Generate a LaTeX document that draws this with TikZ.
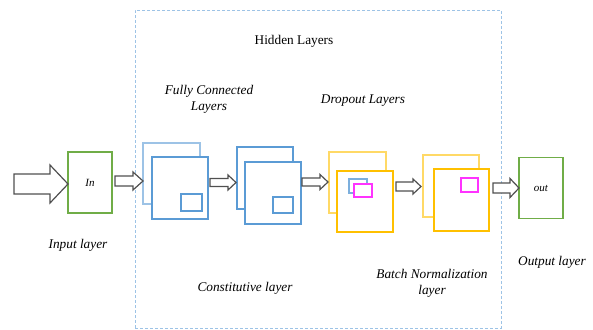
\documentclass[tikz,border=0pt]{standalone}
\usepackage{fontspec}
\setmainfont{Liberation Serif}
\usepackage{xcolor}
\definecolor{boxblue}{RGB}{91,155,213}
\definecolor{lightblue}{RGB}{157,195,230}
\definecolor{boxgold}{RGB}{255,192,0}
\definecolor{lightgold}{RGB}{255,217,102}
\definecolor{boxpink}{RGB}{255,51,255}
\definecolor{boxgreen}{RGB}{112,173,71}
\definecolor{arrowgray}{RGB}{80,80,80}
\usetikzlibrary{positioning}

\begin{document}
\begin{tikzpicture}[x=1pt,y=-1pt,
  every node/.style={font=\fontsize{13.3}{14.5}\selectfont},
  layer/.style={draw=boxgreen,line width=1.2pt,minimum width=44pt,minimum height=61pt,inner sep=0pt},
  sheet/.style={draw,line width=1.2pt,fill=white,inner sep=0pt},
  caption/.style={font=\fontsize{13.3}{16}\selectfont\itshape,align=center},
  blockarrow/.style={draw=arrowgray,fill=white,line width=1.2pt,line join=miter}]
\useasboundingbox (0,0) rectangle (593,329);

% hidden layers frame
\node[draw=lightblue,densely dashed,line width=0.9pt,minimum width=366pt,minimum height=318pt,inner sep=0pt] (hidden) at (318,169) {};
\node (hiddentitle) at (294,41) {Hidden Layers};

% input and output
\node[layer] (in) at (90,182.5) {\itshape\fontsize{11}{12}\selectfont In};
\node[layer] (out) at (541,188) {\itshape\fontsize{11}{12}\selectfont out};
\node[caption] (incap) at (78,245) {Input layer};
\node[caption] (outcap) at (552,262) {Output layer};

% fully connected
\node[sheet,draw=lightblue,minimum width=57pt,minimum height=61pt] (fcback) at (171.5,173.5) {};
\node[sheet,draw=boxblue,minimum width=56pt,minimum height=62pt] (fcfront) at (180,188) {};
\node[sheet,draw=boxblue,minimum width=21pt,minimum height=17pt] (fcsmall) at (191.5,202.5) {};
\node[caption] (fccap) at (209,99) {Fully Connected\\Layers};

% constitutive
\node[sheet,draw=boxblue,minimum width=56pt,minimum height=62pt] (cvback) at (265,178) {};
\node[sheet,draw=boxblue,minimum width=56pt,minimum height=62pt] (cvfront) at (273,193) {};
\node[sheet,draw=boxblue,minimum width=20pt,minimum height=16pt] (cvsmall) at (283,205) {};
\node[caption] (cvcap) at (245,288) {Constitutive layer};

% dropout
\node[sheet,draw=lightgold,minimum width=57pt,minimum height=61pt] (dpback) at (357.5,182.5) {};
\node[sheet,draw=boxgold,minimum width=56pt,minimum height=61pt] (dpfront) at (365,201.5) {};
\node[sheet,draw=boxblue!80,minimum width=18pt,minimum height=14pt] (dpblue) at (358,186) {};
\node[sheet,draw=boxpink,minimum width=18pt,minimum height=13pt] (dppink) at (363,190.5) {};
\node[caption] (dpcap) at (363,101) {Dropout Layers};

% batch normalization
\node[sheet,draw=lightgold,minimum width=56pt,minimum height=62pt] (bnback) at (451,186) {};
\node[sheet,draw=boxgold,minimum width=55pt,minimum height=62pt] (bnfront) at (461.5,200) {};
\node[sheet,draw=boxpink,minimum width=17pt,minimum height=14pt] (bnpink) at (469.5,185) {};
\node[caption] (bncap) at (432,283) {Batch Normalization\\layer};

% block arrows: start, end, middle, half shaft, half head, head start
\foreach \xa/\xb/\ym/\hs/\hh/\xh in {14/68/184/10/19/50,
  115/143/181/5/9/133, 210/236/182.5/4/7.5/228, 302/328/182/4/7.5/320,
  396/421/186.5/4.5/7.5/413, 493/519/188/5/9.5/510}
  \draw[blockarrow] (\xa,\ym-\hs) -- (\xh,\ym-\hs) -- (\xh,\ym-\hh) -- (\xb,\ym)
    -- (\xh,\ym+\hh) -- (\xh,\ym+\hs) -- (\xa,\ym+\hs) -- cycle;
\end{tikzpicture}
\end{document}
